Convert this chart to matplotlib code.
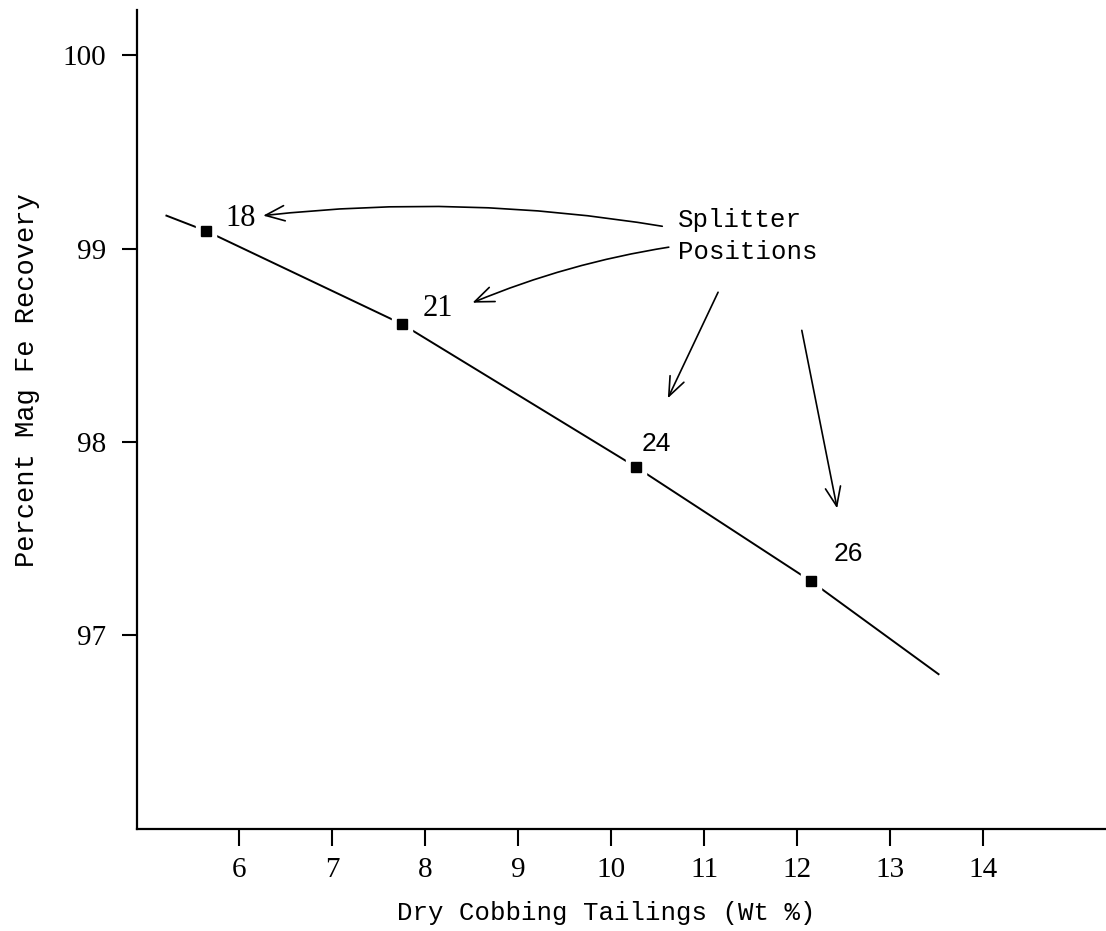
import matplotlib
matplotlib.use("Agg")
import matplotlib.pyplot as plt

# splitter positions
positions = ["18", "21", "24", "26"]
tailings = [5.65, 7.75, 10.27, 12.15]      # Dry cobbing tailings, wt %
recovery = [99.09, 98.61, 97.87, 97.28]    # Percent mag Fe recovery

# hand-drawn curve runs a little past the first and last points
curve_x = [5.22] + tailings + [13.52]
curve_y = [99.17] + recovery + [96.80]

xticks = [6, 7, 8, 9, 10, 11, 12, 13, 14]
yticks = [97, 98, 99, 100]

mono = "Liberation Mono"
serif = "Liberation Serif"
sans = "Liberation Sans"

fig = plt.figure(figsize=(11.06, 9.31), dpi=100)
ax = fig.add_axes([0.1239, 0.1096, 0.8761, 0.8797])

ax.plot(curve_x, curve_y, color="black", lw=1.4, zorder=2)
ax.plot(tailings, recovery, ls="none", marker="s", ms=15, mfc="white",
        mec="white", zorder=3)
ax.plot(tailings, recovery, ls="none", marker="s", ms=7, mfc="black",
        mec="black", zorder=4)

# labels next to each point (offsets in points)
offsets = [(13.7, 9.4), (15, 11), (3.6, 17), (16, 20)]
fonts = [(serif, 22), (serif, 22), (sans, 19), (sans, 19)]
for lab, x, y, off, (fam, fs) in zip(positions, tailings, recovery, offsets, fonts):
    ax.annotate(lab, (x, y), xytext=off, textcoords="offset points",
                ha="left", va="center", family=fam, fontsize=fs)

ax.text(10.72, 99.21, "Splitter\nPositions", ha="left", va="top",
        family=mono, fontsize=18.5, linespacing=1.45)

arr = dict(arrowstyle="->,head_length=0.55,head_width=0.22", color="black",
           lw=1.2, mutation_scale=25, shrinkA=0, shrinkB=0)
ax.annotate("", xy=(6.26, 99.17), xytext=(10.55, 99.115),
            arrowprops=dict(arr, connectionstyle="arc3,rad=0.07"))
ax.annotate("", xy=(8.51, 98.72), xytext=(10.62, 99.007),
            arrowprops=dict(arr, connectionstyle="arc3,rad=0.06"))
ax.annotate("", xy=(10.61, 98.226), xytext=(11.15, 98.774), arrowprops=arr)
ax.annotate("", xy=(12.43, 97.657), xytext=(12.05, 98.577), arrowprops=arr)

ax.set_xlim(4.904, 15.32)
ax.set_ylim(96.0, 100.233)
ax.set_xticks(xticks)
ax.set_yticks(yticks)
ax.set_xticklabels([str(v) for v in xticks], family=serif, fontsize=21)
ax.set_yticklabels([str(v) for v in yticks], family=serif, fontsize=21)
ax.tick_params(axis="x", direction="out", length=12, width=1.5, pad=8)
ax.tick_params(axis="y", direction="out", length=11, width=1.5, pad=11)

for s in ["top", "right"]:
    ax.spines[s].set_visible(False)
for s in ["left", "bottom"]:
    ax.spines[s].set_linewidth(1.6)

ax.set_xlabel("Dry Cobbing Tailings (Wt %)", family=mono, fontsize=18.5)
ax.set_ylabel("Percent Mag Fe Recovery", family=mono, fontsize=19.5)
ax.xaxis.set_label_coords(0.484, -0.1026)
ax.yaxis.set_label_coords(-0.1135, 0.548)
ax.xaxis.label.set_va("center")
ax.yaxis.label.set_va("center")

fig.savefig("out.png", dpi=100)
